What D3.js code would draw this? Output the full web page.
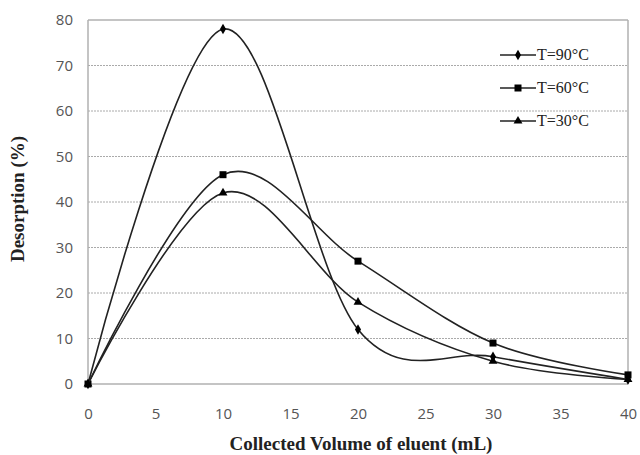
<!DOCTYPE html>
<html><head><meta charset="utf-8">
<script src="https://cdn.jsdelivr.net/npm/d3@7"></script>
<style>body{margin:0;background:#fff}svg{display:block}</style>
</head><body><svg id="c" width="640" height="455"></svg>
<script>
const xValues = [0, 10, 20, 30, 40];
const t90 = [0, 78, 12, 6, 1];
const t60 = [0, 46, 27, 9, 2];
const t30 = [0, 42, 18, 5, 1];
const seriesNames = ["T=90°C", "T=60°C", "T=30°C"];
const xTicks = [0, 5, 10, 15, 20, 25, 30, 35, 40];
const yTicks = [0, 10, 20, 30, 40, 50, 60, 70, 80];

const svg = d3.select("#c");
const L = 88, R = 628, T = 20, B = 384;
const x = d3.scaleLinear().domain([0, 40]).range([L, R]);
const y = d3.scaleLinear().domain([0, 80]).range([B, T]);

// gridlines
svg.append("g").selectAll("line").data(yTicks.filter(d => d > 0 && d < 80)).join("line")
  .attr("x1", L).attr("x2", R).attr("y1", d => y(d)).attr("y2", d => y(d))
  .attr("stroke", "#aaa").attr("stroke-width", 1).attr("stroke-dasharray", "2,1");
// frame
const frameC = "#b0b0b0";
svg.append("line").attr("x1", L).attr("x2", R).attr("y1", T).attr("y2", T).attr("stroke", frameC).attr("stroke-width", 1.5);
svg.append("line").attr("x1", R).attr("x2", R).attr("y1", T).attr("y2", B).attr("stroke", frameC).attr("stroke-width", 1.5);
svg.append("line").attr("x1", L).attr("x2", L).attr("y1", T).attr("y2", B).attr("stroke", frameC).attr("stroke-width", 1.5);
svg.append("line").attr("x1", L).attr("x2", R).attr("y1", B).attr("y2", B).attr("stroke", frameC).attr("stroke-width", 1.5);

// axes labels via d3 axis
const yAxis = svg.append("g").attr("transform", `translate(${L},0)`)
  .call(d3.axisLeft(y).tickValues(yTicks).tickSize(0).tickPadding(15));
yAxis.select(".domain").remove();
yAxis.selectAll("text").attr("font-family", "'Open Sans', sans-serif").attr("font-size", 15).attr("fill", "#555");
const xAxis = svg.append("g").attr("transform", `translate(0,${B})`)
  .call(d3.axisBottom(x).tickValues(xTicks).tickSize(0).tickPadding(24));
xAxis.select(".domain").remove();
xAxis.selectAll("text").attr("font-family", "'Open Sans', sans-serif").attr("font-size", 15).attr("fill", "#555");

// titles
svg.append("text").attr("x", 361).attr("y", 450).attr("text-anchor", "middle")
  .attr("font-family", "'Liberation Serif', serif").attr("font-weight", "bold").attr("font-size", 19)
  .attr("fill", "#222").text("Collected Volume of eluent (mL)");
svg.append("text").attr("transform", "translate(24,199) rotate(-90)").attr("text-anchor", "middle")
  .attr("font-family", "'Liberation Serif', serif").attr("font-weight", "bold").attr("font-size", 19)
  .attr("fill", "#222").text("Desorption (%)");

const data = [t90, t60, t30];
const symbols = [d3.symbolDiamond, d3.symbolSquare, d3.symbolTriangle];
const symSizes = [32, 49, 34];
const line = d3.line().x(d => x(d[0])).y(d => y(d[1])).curve(d3.curveCardinal.tension(0));

data.forEach((vals, i) => {
  const pts = xValues.map((xv, j) => [xv, vals[j]]);
  svg.append("path").attr("d", line(pts)).attr("fill", "none").attr("stroke", "#222").attr("stroke-width", 1.6);
  svg.append("g").selectAll("path").data(pts).join("path")
    .attr("transform", d => `translate(${x(d[0])},${y(d[1])})`)
    .attr("d", d3.symbol().type(symbols[i]).size(symSizes[i])).attr("fill", "#000");
});

// legend
const legY = [55, 88, 121];
seriesNames.forEach((n, i) => {
  const g = svg.append("g").attr("transform", `translate(500,${legY[i]})`);
  g.append("line").attr("x1", 0).attr("x2", 36).attr("stroke", "#222").attr("stroke-width", 1.6);
  g.append("path").attr("transform", "translate(18,0)").attr("d", d3.symbol().type(symbols[i]).size(symSizes[i])).attr("fill", "#000");
  g.append("text").attr("x", 37).attr("y", 5).attr("font-family", "'Liberation Serif', serif").attr("font-size", 16).attr("fill", "#222").text(n);
});
</script></body></html>
